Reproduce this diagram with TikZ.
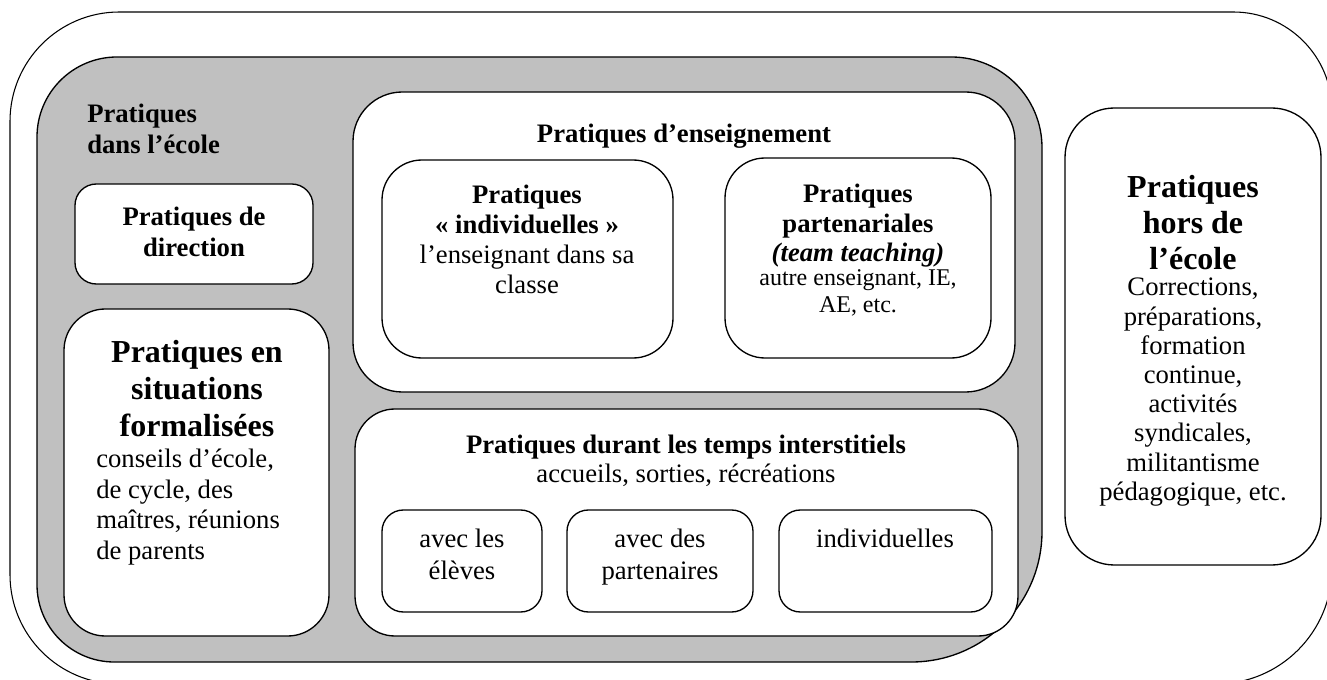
\documentclass[tikz,border=0pt]{standalone}
\usepackage{fontspec}
\setmainfont{Liberation Serif}
\usetikzlibrary{fit}
\definecolor{schoolgray}{RGB}{192,192,192}
\tikzset{
  box/.style={draw=black, line width=1pt, fill=white, inner sep=0pt},
  txt/.style={inner sep=0pt, align=center, anchor=north},
  hd/.style={txt, font={\fontsize{20}{23}\selectfont\bfseries}},
  big/.style={txt, font={\fontsize{24}{28}\selectfont\bfseries}},
  body/.style={txt, font={\fontsize{20}{23}\selectfont}},
  small/.style={txt, font={\fontsize{18}{20.25}\selectfont}},
}
\begin{document}
\begin{tikzpicture}[x=0.75pt,y=-0.75pt]
\useasboundingbox (0,0) rectangle (1327,680);
\clip (0,0) rectangle (1327,680);
\fill[white] (0,0) rectangle (1327,680);
% outer frame
\draw[line width=0.8pt] (10,350) [rounded corners=82pt] |- (670,12)
  [rounded corners=74pt] -| (1332,350)
  [rounded corners=87pt] |- (670,684)
  [rounded corners=82pt] -| (10,350);
% grey school area
\draw[line width=1pt, fill=schoolgray] (37,360) [rounded corners=60pt] |- (540,57)
  [rounded corners=68pt] -| (1042,360)
  [rounded corners=98pt] |- (540,662)
  [rounded corners=58pt] -| (37,360);
% boxes
\node[box, rounded corners=16pt, fit={(75,184) (313,284)}] (direction) {};
\node[box, rounded corners=31pt, fit={(64,309) (329,636)}] (formal) {};
\node[box, rounded corners=37pt, fit={(353,92) (1015,392)}] (enseign) {};
\node[box, rounded corners=30pt, fit={(382,160) (673,358)}] (indiv) {};
\node[box, rounded corners=30pt, fit={(725,158) (991,358)}] (parten) {};
\node[box, rounded corners=30pt, fit={(355,409) (1018,636)}] (inter) {};
\node[box, rounded corners=16pt, fit={(382,510) (542,612)}] (eleves) {};
\node[box, rounded corners=16pt, fit={(567,510) (753,612)}] (partenaires) {};
\node[box, rounded corners=16pt, fit={(779,510) (992,612)}] (indivs) {};
\node[box, rounded corners=37pt, fit={(1065,108) (1321,565)}] (hors) {};
% texts
\node[hd, anchor=north west, align=left] (ecoleT) at (87,104) {Pratiques\\dans l’école};
\node[hd] (directionT) at (194,207) {Pratiques de\\direction};
\node[big, font={\fontsize{24}{27.75}\selectfont\bfseries}] (formalT) at (197,340) {Pratiques en\\situations\\formalisées};
\node[body, anchor=north west, align=left, font={\fontsize{20}{22.9}\selectfont}] (formalB) at (96,449) {conseils d’école,\\de cycle, des\\maîtres, réunions\\de parents};
\node[hd] (enseignT) at (684,124) {Pratiques d’enseignement};
\node[body, font={\fontsize{20}{22.5}\selectfont}] (indivT) at (527,185) {\textbf{Pratiques}\\\textbf{«~individuelles~»}\\l’enseignant dans sa\\classe};
\node[hd, font={\fontsize{20}{22}\selectfont\bfseries}] (partenT) at (858,184) {Pratiques\\partenariales\\\textit{(team teaching)}};
\node[small] (partenB) at (858,269) {autre enseignant, IE,\\AE, etc.};
\node[body, font={\fontsize{20}{21.75}\selectfont}] (interT) at (686,435) {\textbf{Pratiques durant les temps interstitiels}\\accueils, sorties, récréations};
\node[body, font={\fontsize{20}{24}\selectfont}] (elevesT) at (462,529) {avec les\\élèves};
\node[body, font={\fontsize{20}{24}\selectfont}] (partenairesT) at (660,529) {avec des\\partenaires};
\node[body] (indivsT) at (885,529) {individuelles};
\node[big, font={\fontsize{24}{27}\selectfont\bfseries}] (horsT) at (1193,175) {Pratiques\\hors de\\l’école};
\node[body, font={\fontsize{20}{21.9}\selectfont}] (horsB) at (1193,278) {Corrections,\\préparations,\\formation\\continue,\\activités\\syndicales,\\militantisme\\pédagogique, etc.};
\end{tikzpicture}
\end{document}
